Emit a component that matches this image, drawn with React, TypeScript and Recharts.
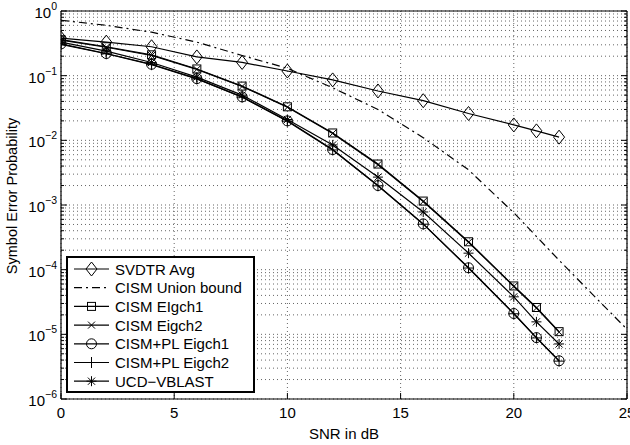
import React from "react";
import { LineChart, Line, XAxis, YAxis, CartesianGrid, Legend } from "recharts";

// SNR points (dB) for the simulated curves
const snr = [0, 2, 4, 6, 8, 10, 12, 14, 16, 18, 20, 21, 22];
const svdtrAvg = [0.38, 0.33, 0.28, 0.195, 0.16, 0.118, 0.086, 0.058, 0.041, 0.026, 0.0173, 0.014, 0.0112];
const cismEigch1 = [0.36, 0.28, 0.21, 0.127, 0.069, 0.033, 0.013, 0.0043, 0.00115, 0.00027, 5.6e-5, 2.6e-5, 1.1e-5];
const cismEigch2 = [0.355, 0.275, 0.205, 0.125, 0.068, 0.0325, 0.0128, 0.0042, 0.00113, 0.000265, 5.5e-5, 2.55e-5, 1.08e-5];
const plEigch1 = [0.31, 0.22, 0.15, 0.09, 0.047, 0.02, 0.0072, 0.002, 0.00051, 0.000107, 2.1e-5, 8.9e-6, 3.9e-6];
const plEigch2 = [0.305, 0.218, 0.148, 0.089, 0.0465, 0.0198, 0.0071, 0.00198, 0.000505, 0.000106, 2.08e-5, 8.8e-6, 3.85e-6];
const ucdVblast = [0.33, 0.24, 0.16, 0.095, 0.05, 0.021, 0.0085, 0.0027, 0.00078, 0.00018, 3.8e-5, 1.56e-5, 7.1e-6];

// union bound (no markers)
const unionSnr = [0, 2, 4, 6, 8, 10, 12, 14, 16, 18, 20, 22, 24, 25];
const unionBound = [0.72, 0.6, 0.47, 0.33, 0.205, 0.13, 0.065, 0.03, 0.011, 0.0035, 7.6e-4, 1.4e-4, 2.7e-5, 1.2e-5];

const xTicks = [0, 5, 10, 15, 20, 25];
const decades = [-6, -5, -4, -3, -2, -1, 0];
const mantissas = [1, 2, 3, 4, 5, 6, 7, 8, 9];
const yTicks = decades.flatMap((d) => (d === 0 ? [1] : mantissas.map((m) => m * Math.pow(10, d))));

const FONT = "'Liberation Sans', Arial, Helvetica, sans-serif";

const toPoints = (xs: number[], ys: number[]) => xs.map((x, i) => ({ x, y: ys[i] }));

type Shape = "diamond" | "none" | "square" | "cross" | "circle" | "plus" | "star";

const series: { name: string; data: { x: number; y: number }[]; shape: Shape; dash?: string }[] = [
  { name: "SVDTR Avg", data: toPoints(snr, svdtrAvg), shape: "diamond" },
  { name: "CISM Union bound", data: toPoints(unionSnr, unionBound), shape: "none", dash: "8 4 2 4" },
  { name: "CISM EIgch1", data: toPoints(snr, cismEigch1), shape: "square" },
  { name: "CISM Eigch2", data: toPoints(snr, cismEigch2), shape: "cross" },
  { name: "CISM+PL Eigch1", data: toPoints(snr, plEigch1), shape: "circle" },
  { name: "CISM+PL Eigch2", data: toPoints(snr, plEigch2), shape: "plus" },
  { name: "UCD\u2212VBLAST", data: toPoints(snr, ucdVblast), shape: "star" },
];

const Marker = ({ shape, cx, cy }: { shape: Shape; cx: number; cy: number }) => {
  const st = { stroke: "#000", strokeWidth: 1, fill: "none" };
  switch (shape) {
    case "diamond":
      return <path d={`M${cx},${cy - 7}L${cx + 5.5},${cy}L${cx},${cy + 7}L${cx - 5.5},${cy}Z`} {...st} />;
    case "square":
      return <rect x={cx - 4} y={cy - 4} width={8} height={8} {...st} />;
    case "cross":
      return <path d={`M${cx - 3.5},${cy - 3.5}L${cx + 3.5},${cy + 3.5}M${cx - 3.5},${cy + 3.5}L${cx + 3.5},${cy - 3.5}`} {...st} />;
    case "circle":
      return <circle cx={cx} cy={cy} r={5} {...st} />;
    case "plus":
      return <path d={`M${cx - 5.5},${cy}L${cx + 5.5},${cy}M${cx},${cy - 5.5}L${cx},${cy + 5.5}`} {...st} />;
    case "star":
      return (
        <path
          d={`M${cx - 5},${cy}L${cx + 5},${cy}M${cx},${cy - 5}L${cx},${cy + 5}M${cx - 3.6},${cy - 3.6}L${cx + 3.6},${cy + 3.6}M${cx - 3.6},${cy + 3.6}L${cx + 3.6},${cy - 3.6}`}
          {...st}
        />
      );
    default:
      return null;
  }
};

const isDecade = (v: number) => {
  const e = Math.log10(v);
  return Math.abs(e - Math.round(e)) < 1e-6;
};

const LeftTick = (props: any) => {
  const { x, y, payload } = props;
  const major = isDecade(payload.value);
  const e = Math.round(Math.log10(payload.value));
  return (
    <g>
      <line x1={x} x2={x + (major ? 6 : 3)} y1={y} y2={y} stroke="#000" />
      {major && (
        <text x={x - 4} y={y + 7} textAnchor="end" fontSize={15} fontFamily={FONT} fill="#000">
          10
          <tspan dy={-8} fontSize={10.5}>
            {e < 0 ? `\u2212${-e}` : e}
          </tspan>
        </text>
      )}
    </g>
  );
};

const RightTick = (props: any) => {
  const { x, y, payload } = props;
  const major = isDecade(payload.value);
  return <line x1={x} x2={x - (major ? 6 : 3)} y1={y} y2={y} stroke="#000" />;
};

const BottomTick = (props: any) => {
  const { x, y, payload } = props;
  return (
    <g>
      <line x1={x} x2={x} y1={y} y2={y - 6} stroke="#000" />
      <text x={x} y={y + 19} textAnchor="middle" fontSize={15} fontFamily={FONT} fill="#000">
        {payload.value}
      </text>
    </g>
  );
};

const TopTick = (props: any) => {
  const { x, y } = props;
  return <line x1={x} x2={x} y1={y} y2={y + 6} stroke="#000" />;
};

const YLabel = (props: any) => {
  const vb = props.viewBox || { x: 0, y: 11, width: 61, height: 388 };
  const cy = vb.y + vb.height / 2 - 9;
  return (
    <text
      transform={`translate(17, ${cy}) rotate(-90)`}
      textAnchor="middle"
      fontSize={14.5}
      fontFamily={FONT}
      fill="#000"
    >
      Symbol Error Probability
    </text>
  );
};

const renderLegend = () => (
  <svg width={190} height={138} style={{ display: "block" }}>
    <rect x={1} y={1} width={187} height={135} fill="#fff" stroke="#000" strokeWidth={2} />
    {series.map((s, i) => {
      const cy = 13 + i * 18.7;
      return (
        <g key={s.name}>
          <line x1={8} x2={43} y1={cy} y2={cy} stroke="#000" strokeWidth={1.2} strokeDasharray={s.dash} />
          <Marker shape={s.shape} cx={25.5} cy={cy} />
          <text x={49} y={cy + 5.5} fontSize={15} fontFamily={FONT} fill="#000">
            {s.name}
          </text>
        </g>
      );
    })}
  </svg>
);

export default function App() {
  return (
    <div style={{ position: "absolute", left: 0, top: 0, fontFamily: FONT, background: "#fff" }}>
      <LineChart width={630} height={445} margin={{ top: 10, right: 2, bottom: 0, left: 0 }}>
        <CartesianGrid
          xAxisId="bottom"
          yAxisId="left"
          stroke="#666"
          strokeDasharray="1 3"
        />
        <XAxis
          xAxisId="bottom"
          dataKey="x"
          type="number"
          domain={[0, 25]}
          ticks={xTicks}
          interval={0}
          allowDataOverflow
          height={46}
          tickSize={0}
          tickMargin={0}
          tickLine={false}
          tick={<BottomTick />}
          axisLine={{ stroke: "#000", strokeWidth: 1.2 }}
          label={{ value: "SNR in dB", position: "insideBottom", offset: 6, fontSize: 15, fill: "#000", fontFamily: FONT }}
        />
        <XAxis
          xAxisId="top"
          orientation="top"
          dataKey="x"
          type="number"
          domain={[0, 25]}
          ticks={xTicks}
          interval={0}
          height={1}
          tickSize={0}
          tickMargin={0}
          tickLine={false}
          tick={<TopTick />}
          axisLine={{ stroke: "#000", strokeWidth: 1.2 }}
        />
        <YAxis
          yAxisId="left"
          type="number"
          scale="log"
          domain={[1e-6, 1]}
          ticks={yTicks}
          interval={0}
          allowDataOverflow
          width={61}
          tickSize={0}
          tickMargin={0}
          tickLine={false}
          tick={<LeftTick />}
          axisLine={{ stroke: "#000", strokeWidth: 1.2 }}
          label={<YLabel />}
        />
        <YAxis
          yAxisId="right"
          orientation="right"
          type="number"
          scale="log"
          domain={[1e-6, 1]}
          ticks={yTicks}
          interval={0}
          allowDataOverflow
          width={1}
          tickSize={0}
          tickMargin={0}
          tickLine={false}
          tick={<RightTick />}
          axisLine={{ stroke: "#000", strokeWidth: 1.2 }}
        />
        {series.map((s) => (
          <Line
            key={s.name}
            xAxisId="bottom"
            yAxisId="left"
            data={s.data}
            dataKey="y"
            name={s.name}
            type="linear"
            stroke="#000"
            strokeWidth={1.2}
            strokeDasharray={s.dash}
            dot={
              s.shape === "none"
                ? false
                : (p: any) => <Marker key={`${s.name}-${p.index}`} shape={s.shape} cx={p.cx} cy={p.cy} />
            }
            activeDot={false}
            isAnimationActive={false}
          />
        ))}
        <Legend
          layout="horizontal"
          verticalAlign="middle"
          align="center"
          content={renderLegend}
          wrapperStyle={{ left: 66, top: 256, width: 190, height: 138 }}
        />
      </LineChart>
    </div>
  );
}
